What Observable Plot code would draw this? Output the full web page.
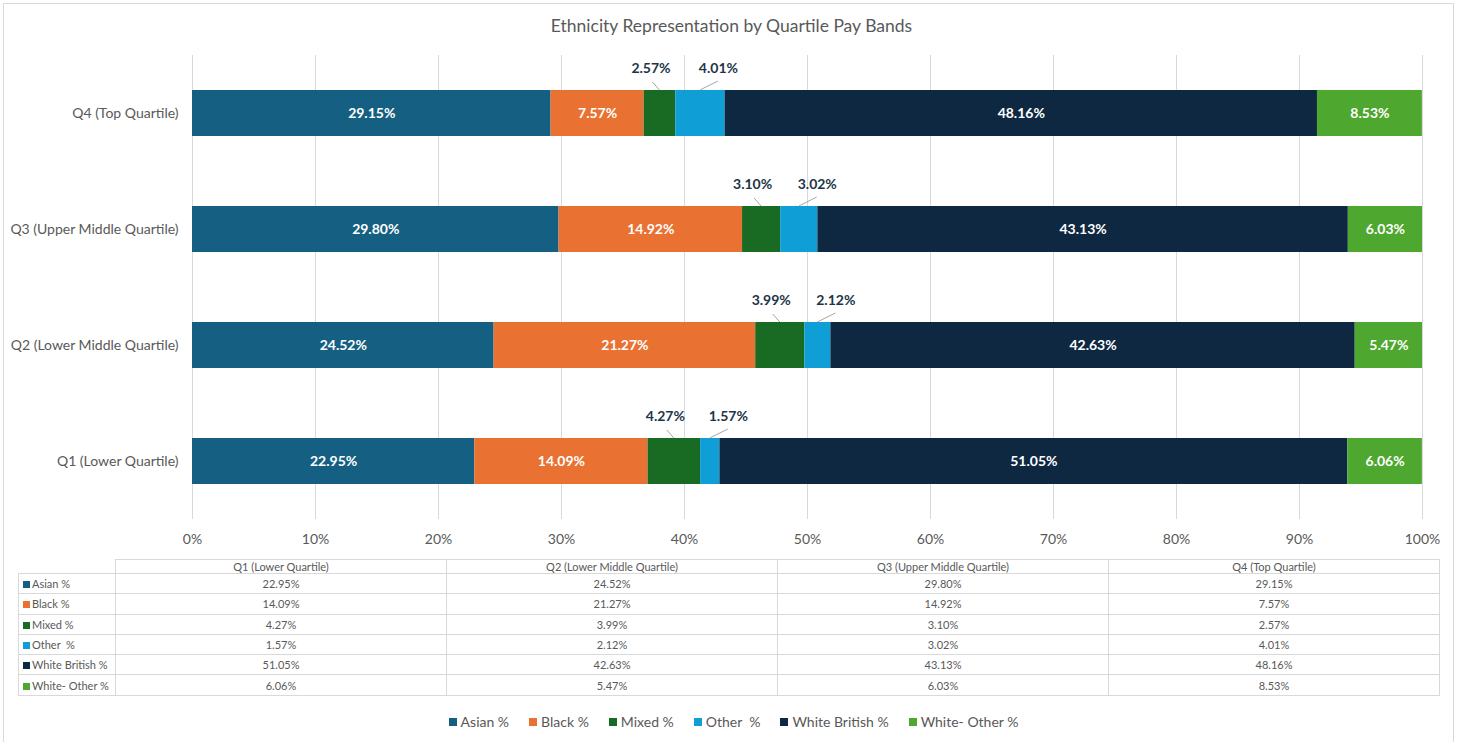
<!DOCTYPE html>
<html>
<head>
<meta charset="utf-8">
<script src="https://cdn.jsdelivr.net/npm/d3@7"></script>
<script src="https://cdn.jsdelivr.net/npm/@observablehq/plot@0.6"></script>
<style>
  html, body { margin: 0; padding: 0; background: #fff; }
  #wrap { position: relative; width: 1463px; height: 742px; overflow: hidden; font-family: Lato, "Noto Sans", sans-serif; color: #595959; }
  #frame { position: absolute; left: 3px; top: 3px; width: 1451px; height: 745px; border: 1px solid #d9d9d9; box-sizing: border-box; }
  #title { position: absolute; left: 0; top: 0; width: 1463px; height: 42px; line-height: 52px; text-align: center; font-size: 17.5px; color: #595959; }
  #chart { position: absolute; left: 0; top: 42px; }
  #tbl { position: absolute; left: 18px; top: 559px; border-collapse: collapse; font-size: 11px; color: #595959; table-layout: fixed; }
  #tbl td { border: 1px solid #d9d9d9; padding: 0; text-align: center; white-space: pre; height: 19.3px; }
  #tbl tr.head td { height: 13px; line-height: 13px; }
  #tbl td.blank { border-top: none; border-left: none; }
  #tbl td.lab { text-align: left; padding-left: 4px; }
  .sw { display: inline-block; width: 7px; height: 7px; margin-right: 2px; vertical-align: 0px; }
  #legend { position: absolute; left: 0; top: 713px; width: 1463px; display: flex; justify-content: center; gap: 20px; font-size: 14px; color: #595959; padding-left: 4px; box-sizing: border-box; }
  #legend span.item { white-space: pre; display: inline-flex; align-items: center; }
  #legend .lsw { display: inline-block; width: 8px; height: 8px; margin-right: 4px; }
</style>
</head>
<body>
<div id="wrap">
  <div id="frame"></div>
  <div id="title">Ethnicity Representation by Quartile Pay Bands</div>
  <div id="chart"></div>
  <table id="tbl"></table>
  <div id="legend"></div>
</div>
<script>
// ---- data ----
const quartiles = ["Q1 (Lower Quartile)", "Q2 (Lower Middle Quartile)", "Q3 (Upper Middle Quartile)", "Q4 (Top Quartile)"];
const ethnicities = ["Asian %", "Black %", "Mixed %", "Other  %", "White British %", "White- Other %"];
const asian = [22.95, 24.52, 29.80, 29.15];
const black = [14.09, 21.27, 14.92, 7.57];
const mixed = [4.27, 3.99, 3.10, 2.57];
const other = [1.57, 2.12, 3.02, 4.01];
const whiteBritish = [51.05, 42.63, 43.13, 48.16];
const whiteOther = [6.06, 5.47, 6.03, 8.53];
const xTicks = [0, 10, 20, 30, 40, 50, 60, 70, 80, 90, 100];
const colors = ["#156082", "#E97132", "#196B24", "#0F9ED5", "#0E2841", "#4EA72E"];

const series = [asian, black, mixed, other, whiteBritish, whiteOther];
const data = [];
quartiles.forEach((q, qi) => {
  ethnicities.forEach((e, ei) => data.push({quartile: q, eth: e, value: series[ei][qi]}));
});
const fmt = v => v.toFixed(2) + "%";
const outside = ["Mixed %", "Other  %"];

const plot = Plot.plot({
  width: 1463,
  height: 508,
  marginLeft: 192,
  marginRight: 41,
  marginTop: 13,
  marginBottom: 31,
  style: {fontFamily: "Lato, 'Noto Sans', sans-serif", fontSize: "14px", color: "#595959", background: "transparent"},
  x: {domain: [0, 100], ticks: xTicks, tickFormat: d => d + "%"},
  y: {domain: quartiles.slice().reverse(), paddingInner: 0.604, paddingOuter: 0.302},
  color: {domain: ethnicities, range: colors},
  marks: [
    Plot.gridX(xTicks, {stroke: "#d9d9d9", strokeOpacity: 1}),
    Plot.axisX({ticks: xTicks, tickSize: 0, tickPadding: 15, tickFormat: d => d + "%", label: null, fontSize: 14}),
    Plot.axisY({tickSize: 0, tickPadding: 14, label: null, fontSize: 14}),
    Plot.barX(data, Plot.stackX({x: "value", y: "quartile", fill: "eth", inset: 0})),
    Plot.text(data, Plot.stackX({x: "value", y: "quartile",
      text: d => outside.includes(d.eth) ? "" : fmt(d.value),
      fill: "white", fontWeight: "bold", fontSize: 14})),
    Plot.text(data, Plot.stackX({x: "value", y: "quartile",
      text: d => d.eth === "Mixed %" ? fmt(d.value) : "",
      fill: "#1d3549", fontWeight: "bold", fontSize: 14, dx: -9, dy: -45})),
    Plot.text(data, Plot.stackX({x: "value", y: "quartile",
      text: d => d.eth === "Other  %" ? fmt(d.value) : "",
      fill: "#1d3549", fontWeight: "bold", fontSize: 14, dx: 18, dy: -45}))
  ]
});
document.getElementById("chart").appendChild(plot);

// leader lines for the small outside labels, via the plot's own scales
const xs = plot.scale("x"), ys = plot.scale("y");
const g = d3.select(plot).append("g").attr("stroke", "#a6a6a6").attr("stroke-width", 1);
quartiles.forEach((q, qi) => {
  const top = ys.apply(q);
  const mStart = asian[qi] + black[qi];
  const mMid = xs.apply(mStart + mixed[qi] / 2);
  const oMid = xs.apply(mStart + mixed[qi] + other[qi] / 2);
  g.append("line").attr("x1", mMid).attr("y1", top).attr("x2", mMid - 7).attr("y2", top - 8);
  g.append("line").attr("x1", oMid).attr("y1", top).attr("x2", oMid + 18).attr("y2", top - 9);
});

// ---- data table ----
const tbl = d3.select("#tbl");
const cg = tbl.append("colgroup");
cg.append("col").style("width", "97px");
quartiles.forEach(() => cg.append("col").style("width", "331px"));
const hr = tbl.append("tr").attr("class", "head");
hr.append("td").attr("class", "blank");
quartiles.forEach(q => hr.append("td").text(q));
ethnicities.forEach((e, ei) => {
  const tr = tbl.append("tr");
  const td = tr.append("td").attr("class", "lab");
  td.append("span").attr("class", "sw").style("background", colors[ei]);
  td.append("span").text(e);
  quartiles.forEach((q, qi) => tr.append("td").text(fmt(series[ei][qi])));
});

// ---- legend ----
const lg = d3.select("#legend");
ethnicities.forEach((e, ei) => {
  const it = lg.append("span").attr("class", "item");
  it.append("span").attr("class", "lsw").style("background", colors[ei]);
  it.append("span").text(e);
});
</script>
</body>
</html>
